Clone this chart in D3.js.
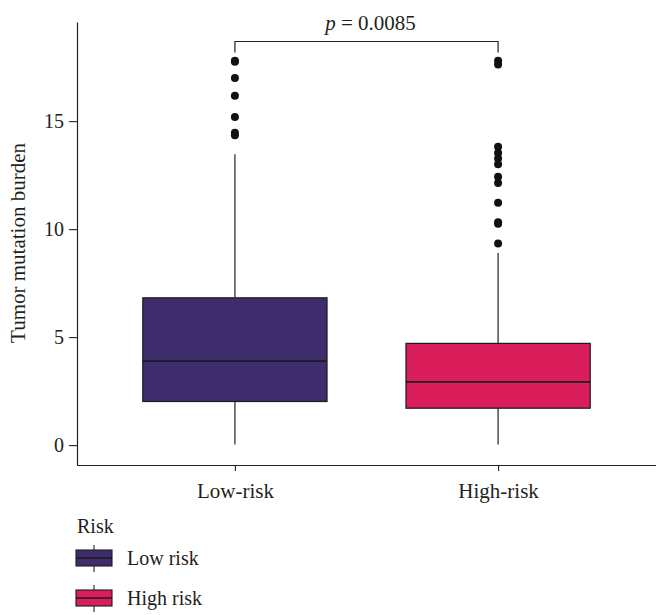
<!DOCTYPE html>
<html>
<head>
<meta charset="utf-8">
<script src="https://cdn.jsdelivr.net/npm/d3@7"></script>
<style>
  html, body { margin: 0; padding: 0; background: #fff; }
  text { font-family: "Liberation Serif", "Times New Roman", serif; fill: #231f20; }
</style>
</head>
<body>
<svg id="chart" width="656" height="615"></svg>
<script>
// Groups and their box-plot summaries (tumor mutation burden)
const groups = ["Low-risk", "High-risk"];
const legendLabels = ["Low risk", "High risk"];
const colors = ["#3d2d6c", "#d91e5b"];
const whiskerLow = [0.03, 0.03];
const q1 = [2.02, 1.71];
const median = [3.89, 2.93];
const q3 = [6.82, 4.71];
const whiskerHigh = [13.47, 8.9];
const outliersLow = [17.8, 17.75, 17.0, 16.17, 15.19, 14.46, 14.35];
const outliersHigh = [17.8, 17.62, 13.81, 13.53, 13.27, 13.0, 12.42, 12.14, 11.22, 10.32, 10.25, 9.34];
const yTicks = [0, 5, 10, 15];
const pLabel = "0.0085";

const svg = d3.select("#chart");

const x = d3.scalePoint().domain(groups).range([77, 656]).padding(0.6);
const y = d3.scaleLinear().domain([-0.92, 19.59]).range([465, 22]);
const boxW = x.step() * 0.7;

// Y axis
const yAxis = svg.append("g")
  .attr("transform", "translate(77,0)")
  .call(d3.axisLeft(y).tickValues(yTicks).tickSize(8).tickPadding(5).tickSizeOuter(0));
yAxis.select(".domain").attr("stroke", "#231f20").attr("stroke-width", 1.2);
yAxis.selectAll(".tick line").attr("stroke", "#231f20").attr("stroke-width", 1.1);
yAxis.selectAll(".tick text").attr("font-size", 20).attr("font-family", "Liberation Serif").attr("fill", "#231f20");

// X axis
const xAxis = svg.append("g")
  .attr("transform", "translate(0,465)")
  .call(d3.axisBottom(x).tickSize(6).tickPadding(12).tickSizeOuter(0));
xAxis.select(".domain").attr("stroke", "#231f20").attr("stroke-width", 1.2);
xAxis.selectAll(".tick line").attr("stroke", "#231f20").attr("stroke-width", 1.1);
xAxis.selectAll(".tick text").attr("font-size", 21).attr("font-family", "Liberation Serif").attr("fill", "#231f20");

// Y axis title
svg.append("text")
  .attr("transform", `translate(25,${243}) rotate(-90)`)
  .attr("text-anchor", "middle")
  .attr("font-size", 21)
  .text("Tumor mutation burden");

// Boxes
const data = groups.map((g, i) => ({
  g, color: colors[i], lo: whiskerLow[i], q1: q1[i], med: median[i], q3: q3[i], hi: whiskerHigh[i],
  out: i === 0 ? outliersLow : outliersHigh
}));

const box = svg.append("g").selectAll("g").data(data).join("g");

box.append("line")
  .attr("x1", d => x(d.g)).attr("x2", d => x(d.g))
  .attr("y1", d => y(d.q3)).attr("y2", d => y(d.hi))
  .attr("stroke", "#333").attr("stroke-width", 1.3);
box.append("line")
  .attr("x1", d => x(d.g)).attr("x2", d => x(d.g))
  .attr("y1", d => y(d.q1)).attr("y2", d => y(d.lo))
  .attr("stroke", "#333").attr("stroke-width", 1.3);
box.append("rect")
  .attr("x", d => x(d.g) - boxW / 2).attr("width", boxW)
  .attr("y", d => y(d.q3)).attr("height", d => y(d.q1) - y(d.q3))
  .attr("fill", d => d.color).attr("stroke", "#1d1a1c").attr("stroke-width", 1.2);
box.append("line")
  .attr("x1", d => x(d.g) - boxW / 2).attr("x2", d => x(d.g) + boxW / 2)
  .attr("y1", d => y(d.med)).attr("y2", d => y(d.med))
  .attr("stroke", "#1d1a1c").attr("stroke-width", 1.6);
box.selectAll("circle").data(d => d.out.map(v => ({ g: d.g, v }))).join("circle")
  .attr("cx", d => x(d.g)).attr("cy", d => y(d.v)).attr("r", 4)
  .attr("fill", "#111");

// Significance bracket
const by = 41.5;
const bracket = svg.append("g");
bracket.append("path")
  .attr("d", `M${x(groups[0])},${by + 11}V${by}H${x(groups[1])}V${by + 11}`)
  .attr("fill", "none").attr("stroke", "#231f20").attr("stroke-width", 1.2);
const pt = bracket.append("text")
  .attr("x", (x(groups[0]) + x(groups[1])) / 2 + 4).attr("y", 30)
  .attr("text-anchor", "middle").attr("font-size", 21);
pt.append("tspan").attr("font-style", "italic").text("p");
pt.append("tspan").text(" = " + pLabel);

// Legend
const legend = svg.append("g");
legend.append("text").attr("x", 77).attr("y", 533).attr("font-size", 20).text("Risk");
const lg = legend.selectAll("g.key").data(legendLabels).join("g")
  .attr("class", "key")
  .attr("transform", (d, i) => `translate(76,${550 + i * 40})`);
lg.append("line").attr("x1", 18).attr("x2", 18).attr("y1", -5).attr("y2", 22)
  .attr("stroke", "#333").attr("stroke-width", 1.2);
lg.append("rect").attr("x", 0).attr("y", 0).attr("width", 36).attr("height", 16)
  .attr("fill", (d, i) => colors[i]).attr("stroke", "#1d1a1c").attr("stroke-width", 1.1);
lg.append("line").attr("x1", 0).attr("x2", 36).attr("y1", 8).attr("y2", 8)
  .attr("stroke", "#1d1a1c").attr("stroke-width", 1.4);
lg.append("text").attr("x", 51).attr("y", 15).attr("font-size", 20).text(d => d);
</script>
</body>
</html>
